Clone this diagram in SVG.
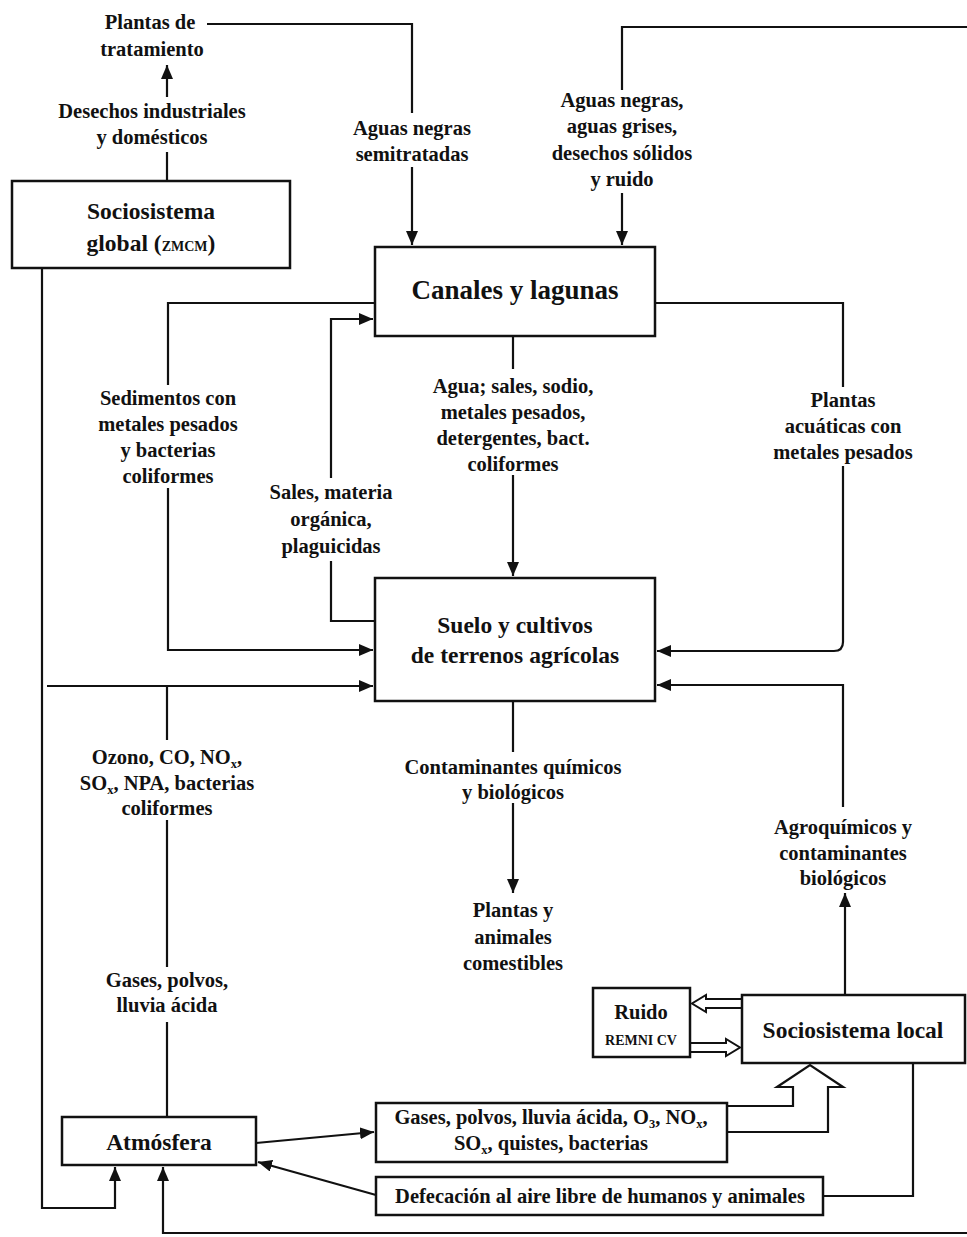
<svg xmlns="http://www.w3.org/2000/svg" width="967" height="1237" viewBox="0 0 967 1237">
<style>
text{font-family:"Liberation Serif","DejaVu Serif",serif;font-size:20.5px;font-weight:bold;fill:#111;text-anchor:middle}
.box{fill:#fff;stroke:#111;stroke-width:2.5}
.ln{fill:none;stroke:#111;stroke-width:2.2}
.hol{fill:#fff;stroke:#111;stroke-width:2}
.big{font-size:27px}
.mid{font-size:23.5px}
.sc{font-size:14px}
.sub{font-size:12.5px}
</style>
<defs>
<marker id="ah" viewBox="0 0 14 12" refX="14" refY="6" markerWidth="14" markerHeight="12" orient="auto" markerUnits="userSpaceOnUse"><path d="M0,0 L14,6 L0,12 z" fill="#111"/></marker>
</defs>
<rect width="967" height="1237" fill="#fff"/>

<g id="connectors">
<path class="ln" d="M167,181 V152"/>
<path class="ln" d="M167,97 V65" marker-end="url(#ah)"/>
<path class="ln" d="M207,24 H412 V113"/>
<path class="ln" d="M412,167 V245" marker-end="url(#ah)"/>
<path class="ln" d="M967,27 H622 V90"/>
<path class="ln" d="M622,193 V245" marker-end="url(#ah)"/>
<path class="ln" d="M375,303 H168 V385"/>
<path class="ln" d="M168,488 V650 H373" marker-end="url(#ah)"/>
<path class="ln" d="M375,621 H331 V561"/>
<path class="ln" d="M331,478 V319 H373" marker-end="url(#ah)"/>
<path class="ln" d="M513,336 V369"/>
<path class="ln" d="M513,475 V576" marker-end="url(#ah)"/>
<path class="ln" d="M655,303 H843 V387"/>
<path class="ln" d="M843,466 V642 Q843,651 834,651 H657" marker-end="url(#ah)"/>
<path class="ln" d="M843,807 V685 H657" marker-end="url(#ah)"/>
<path class="ln" d="M845,995 V893" marker-end="url(#ah)"/>
<path class="ln" d="M42,268 V1208 H115 V1167" marker-end="url(#ah)"/>
<path class="ln" d="M47,686 H373" marker-end="url(#ah)"/>
<path class="ln" d="M167,1117 V1022"/>
<path class="ln" d="M167,967 V820"/>
<path class="ln" d="M167,740 V686"/>
<path class="ln" d="M513,701 V752"/>
<path class="ln" d="M513,803 V893" marker-end="url(#ah)"/>
<path class="ln" d="M256,1143 L374,1132" marker-end="url(#ah)"/>
<path class="ln" d="M376,1195 L258,1162" marker-end="url(#ah)"/>
<path class="ln" d="M967,1233 H163 V1167" marker-end="url(#ah)"/>
<path class="ln" d="M913,1063 V1196 H823"/>
<path class="hol" d="M742,999 H706 V995 L692,1003.5 L706,1012 V1008 H742"/>
<path class="hol" d="M690,1043 H726 V1039 L740,1047.5 L726,1056 V1052 H690"/>
<path class="ln" stroke-width="2.5" d="M727,1106 H793 V1087 H777 L810,1065 L843,1087 H828 V1132 H727"/>
</g>

<g id="plantas-tratamiento">
<text x="150" y="29">Plantas de</text>
<text x="152" y="56">tratamiento</text>
</g>
<g id="label-desechos">
<text x="152" y="118">Desechos industriales</text>
<text x="152" y="144">y domésticos</text>
</g>
<g id="sociosistema-global">
<rect class="box" x="12" y="181" width="278" height="87"/>
<text class="mid" x="151" y="219">Sociosistema</text>
<text class="mid" x="151" y="251">global (<tspan class="sc">ZMCM</tspan>)</text>
</g>
<g id="label-semitratadas">
<text x="412" y="135">Aguas negras</text>
<text x="412" y="161">semitratadas</text>
</g>
<g id="label-aguas">
<text x="622" y="107">Aguas negras,</text>
<text x="622" y="133">aguas grises,</text>
<text x="622" y="160">desechos sólidos</text>
<text x="622" y="186">y ruido</text>
</g>
<g id="canales">
<rect class="box" x="375" y="247" width="280" height="89"/>
<text class="big" x="515" y="299">Canales y lagunas</text>
</g>
<g id="label-sedimentos">
<text x="168" y="405">Sedimentos con</text>
<text x="168" y="431">metales pesados</text>
<text x="168" y="457">y bacterias</text>
<text x="168" y="483">coliformes</text>
</g>
<g id="label-sales">
<text x="331" y="499">Sales, materia</text>
<text x="331" y="526">orgánica,</text>
<text x="331" y="553">plaguicidas</text>
</g>
<g id="label-agua">
<text x="513" y="393">Agua; sales, sodio,</text>
<text x="513" y="419">metales pesados,</text>
<text x="513" y="445">detergentes, bact.</text>
<text x="513" y="471">coliformes</text>
</g>
<g id="label-plantas-acuaticas">
<text x="843" y="407">Plantas</text>
<text x="843" y="433">acuáticas con</text>
<text x="843" y="459">metales pesados</text>
</g>
<g id="suelo">
<rect class="box" x="375" y="578" width="280" height="123"/>
<text class="mid" x="515" y="633">Suelo y cultivos</text>
<text class="mid" x="515" y="663">de terrenos agrícolas</text>
</g>
<g id="label-ozono">
<text x="167" y="764">Ozono, CO, NO<tspan class="sub" dy="4">x</tspan><tspan dy="-4">,</tspan></text>
<text x="167" y="790">SO<tspan class="sub" dy="4">x</tspan><tspan dy="-4">, NPA, bacterias</tspan></text>
<text x="167" y="815">coliformes</text>
</g>
<g id="label-contaminantes">
<text x="513" y="774">Contaminantes químicos</text>
<text x="513" y="799">y biológicos</text>
</g>
<g id="label-agroquimicos">
<text x="843" y="834">Agroquímicos y</text>
<text x="843" y="860">contaminantes</text>
<text x="843" y="885">biológicos</text>
</g>
<g id="plantas-animales">
<text x="513" y="917">Plantas y</text>
<text x="513" y="944">animales</text>
<text x="513" y="970">comestibles</text>
</g>
<g id="label-gases">
<text x="167" y="987">Gases, polvos,</text>
<text x="167" y="1012">lluvia ácida</text>
</g>
<g id="ruido">
<rect class="box" x="593" y="988" width="97" height="69"/>
<text x="641" y="1019">Ruido</text>
<text class="sc" x="641" y="1045">REMNI CV</text>
</g>
<g id="sociosistema-local">
<rect class="box" x="742" y="995" width="223" height="68"/>
<text class="mid" x="853" y="1038">Sociosistema local</text>
</g>
<g id="atmosfera">
<rect class="box" x="62" y="1117" width="194" height="48"/>
<text class="mid" x="159" y="1150">Atmósfera</text>
</g>
<g id="gases-box">
<rect class="box" x="376" y="1103" width="351" height="59"/>
<text x="551" y="1124">Gases, polvos, lluvia ácida, O<tspan class="sub" dy="4">3</tspan><tspan dy="-4">, NO</tspan><tspan class="sub" dy="4">x</tspan><tspan dy="-4">,</tspan></text>
<text x="551" y="1150">SO<tspan class="sub" dy="4">x</tspan><tspan dy="-4">, quistes, bacterias</tspan></text>
</g>
<g id="defecacion">
<rect class="box" x="376" y="1177" width="447" height="38"/>
<text x="600" y="1203">Defecación al aire libre de humanos y animales</text>
</g>
</svg>
